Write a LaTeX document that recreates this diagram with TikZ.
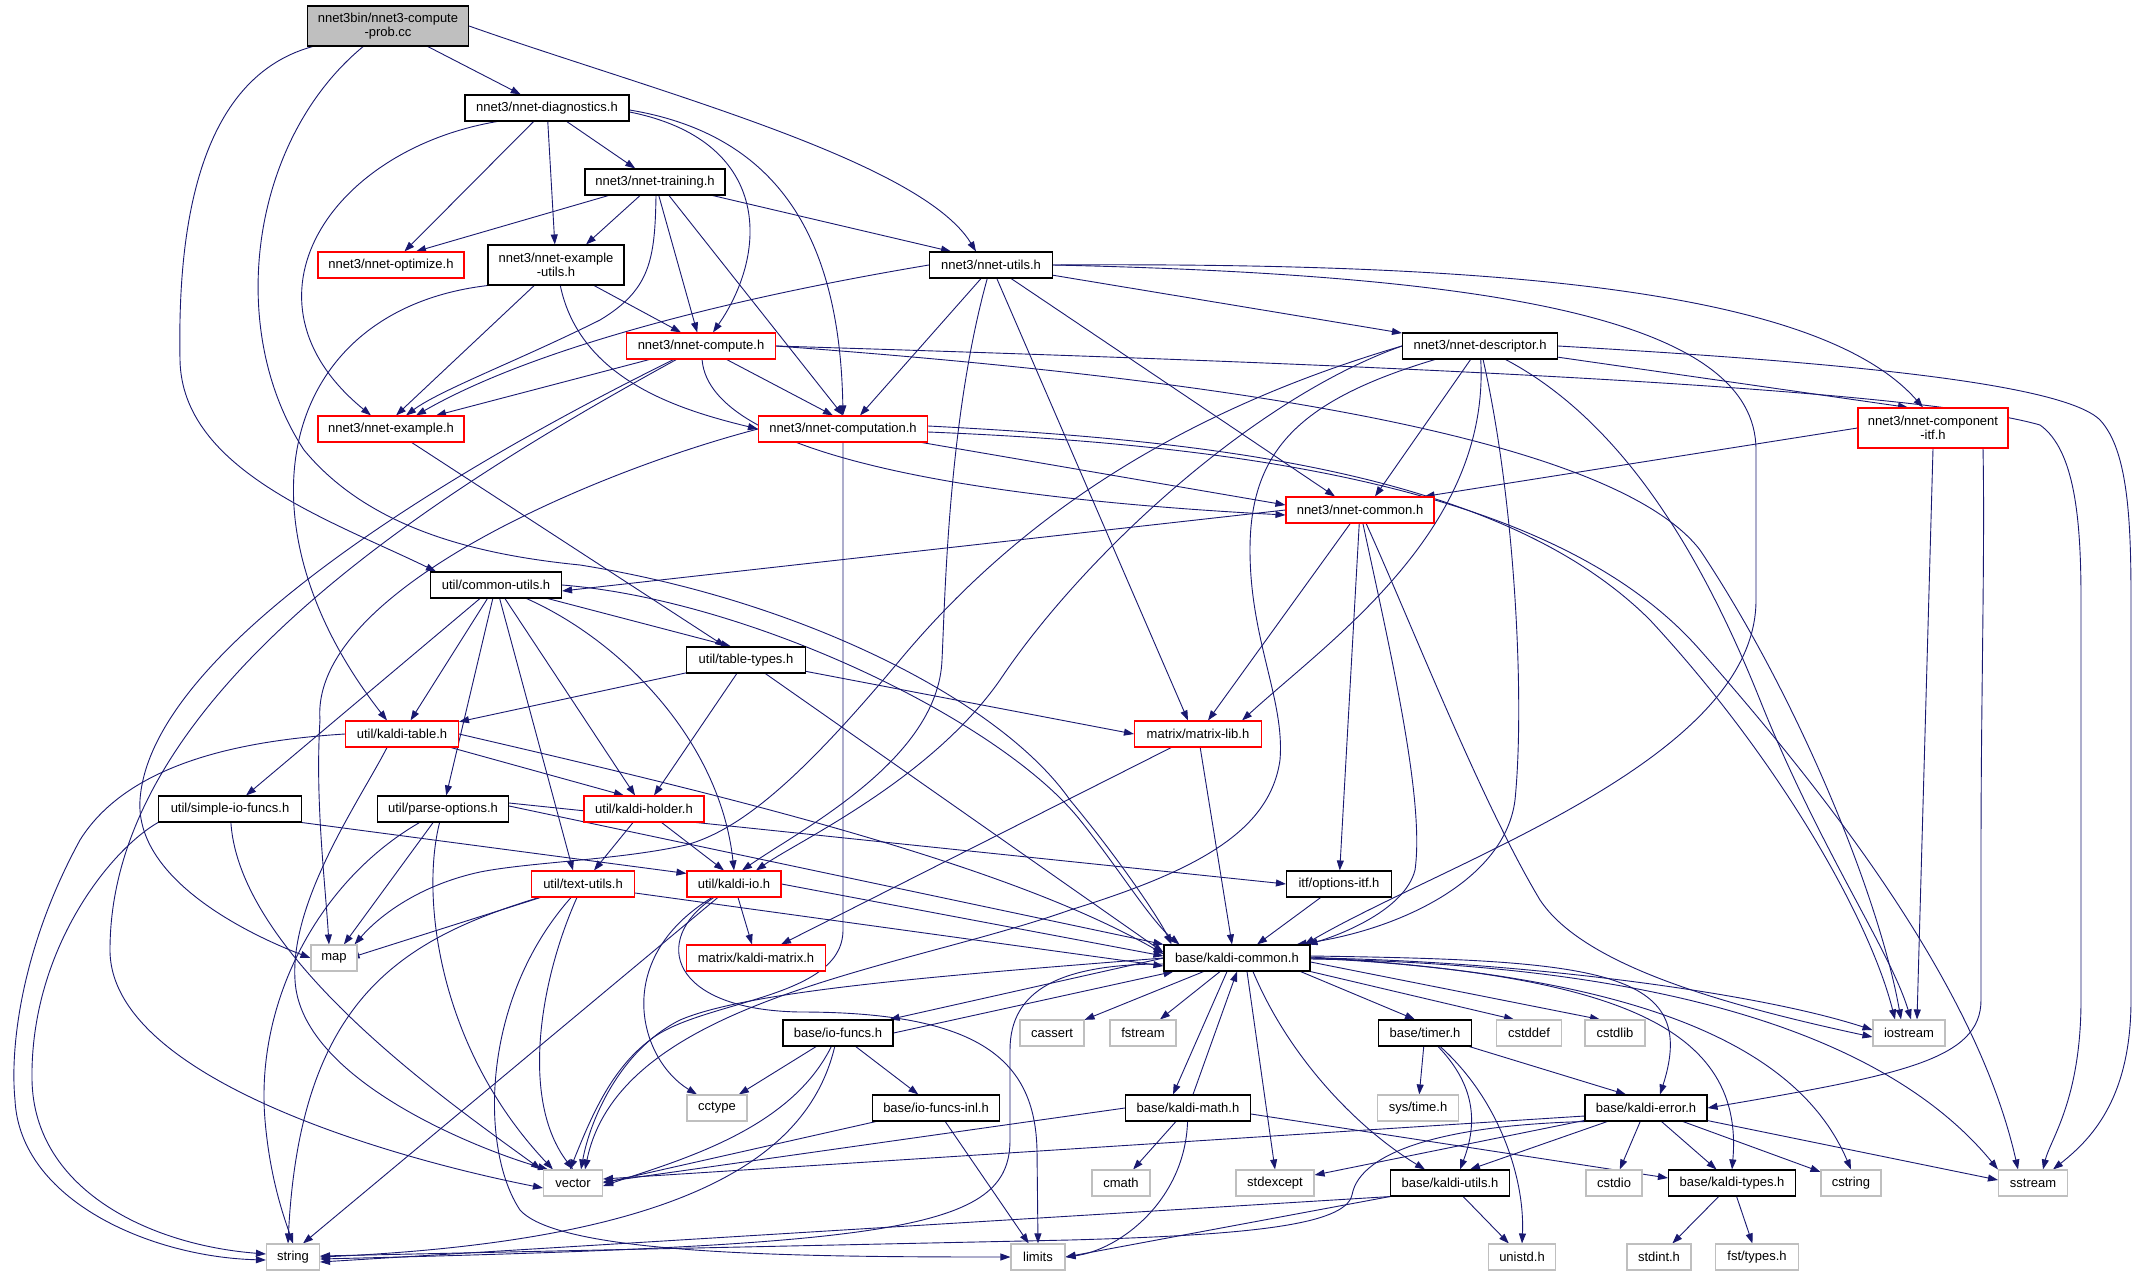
\documentclass[tikz,border=0pt]{standalone}
\usepackage{fontspec}
\setmainfont{Liberation Sans}
\usetikzlibrary{arrows.meta}
\definecolor{edgec}{HTML}{191970}
\definecolor{sysgray}{HTML}{BFBFBF}
\definecolor{topgray}{HTML}{BFBFBF}
\pgfdeclarelayer{bg}
\pgfsetlayers{bg,main}
\begin{document}
\begin{tikzpicture}[x=1pt,y=-1pt,
  nd/.style={rectangle, line width=1.1pt, fill=white, inner sep=0pt, minimum height=26pt, align=center, font=\fontsize{13}{14.5}\selectfont},
  blk/.style={nd, draw=black},
  rd/.style={nd, draw=red},
  gy/.style={nd, draw=sysgray},
  wd/.style={minimum width=#1pt},
  tall/.style={minimum height=40pt},
  ed/.style={draw=edgec, line width=0.9pt, -{Triangle[length=10pt,width=7pt]}}]
\useasboundingbox (0,0) rectangle (2139,1276);
% ---------- nodes ----------
\node[blk,wd=161,tall,fill=topgray] (T) at (388,26) {nnet3bin/nnet3-compute\\-prob.cc};
\node[blk,wd=164] (diag) at (547,108) {nnet3/nnet-diagnostics.h};
\node[blk,wd=140] (training) at (655,182) {nnet3/nnet-training.h};
\node[rd,wd=146] (optimize) at (391,265) {nnet3/nnet-optimize.h};
\node[blk,wd=136,tall] (exutils) at (556,265) {nnet3/nnet-example\\-utils.h};
\node[blk,wd=123] (nutils) at (991,265) {nnet3/nnet-utils.h};
\node[rd,wd=149] (compute) at (701,346) {nnet3/nnet-compute.h};
\node[blk,wd=155] (descriptor) at (1480,346) {nnet3/nnet-descriptor.h};
\node[rd,wd=146] (example) at (391,429) {nnet3/nnet-example.h};
\node[rd,wd=169] (computation) at (843,429) {nnet3/nnet-computation.h};
\node[rd,wd=150,tall] (compitf) at (1933,428) {nnet3/nnet-component\\-itf.h};
\node[rd,wd=148] (ncommon) at (1360,510) {nnet3/nnet-common.h};
\node[blk,wd=131] (cutils) at (496,585) {util/common-utils.h};
\node[blk,wd=119] (tabletypes) at (746,660) {util/table-types.h};
\node[rd,wd=113] (ktable) at (402,734) {util/kaldi-table.h};
\node[rd,wd=127] (matrixlib) at (1198,734) {matrix/matrix-lib.h};
\node[blk,wd=143] (simpleio) at (230,809) {util/simple-io-funcs.h};
\node[blk,wd=131] (parseopts) at (443,809) {util/parse-options.h};
\node[rd,wd=120] (kholder) at (644,809) {util/kaldi-holder.h};
\node[rd,wd=103] (textutils) at (583,884) {util/text-utils.h};
\node[rd,wd=94] (kaldiio) at (734,884) {util/kaldi-io.h};
\node[blk,wd=105] (optionsitf) at (1339,884) {itf/options-itf.h};
\node[gy,wd=46] (map) at (334,958) {map};
\node[rd,wd=139] (kaldimatrix) at (756,958) {matrix/kaldi-matrix.h};
\node[blk,wd=146] (kcommon) at (1237,958) {base/kaldi-common.h};
\node[blk,wd=110] (iofuncs) at (838,1033) {base/io-funcs.h};
\node[gy,wd=64] (cassert) at (1052,1033) {cassert};
\node[gy,wd=66] (fstream) at (1143,1033) {fstream};
\node[blk,wd=93] (timer) at (1425,1033) {base/timer.h};
\node[gy,wd=65] (cstddef) at (1529,1033) {cstddef};
\node[gy,wd=60] (cstdlib) at (1615,1033) {cstdlib};
\node[gy,wd=72] (iostream) at (1909,1033) {iostream};
\node[gy,wd=60] (cctype) at (717,1108) {cctype};
\node[blk,wd=127] (iofuncsinl) at (936,1108) {base/io-funcs-inl.h};
\node[blk,wd=125] (kmath) at (1188,1108) {base/kaldi-math.h};
\node[gy,wd=81] (systime) at (1418,1108) {sys/time.h};
\node[blk,wd=122] (kerror) at (1646,1108) {base/kaldi-error.h};
\node[gy,wd=59] (vector) at (573,1183) {vector};
\node[gy,wd=58] (cmath) at (1121,1183) {cmath};
\node[gy,wd=78] (stdexcept) at (1275,1183) {stdexcept};
\node[blk,wd=119] (kutils) at (1450,1183) {base/kaldi-utils.h};
\node[gy,wd=56] (cstdio) at (1614,1183) {cstdio};
\node[blk,wd=127] (ktypes) at (1732,1183) {base/kaldi-types.h};
\node[gy,wd=60] (cstring) at (1851,1183) {cstring};
\node[gy,wd=69] (sstream) at (2033,1183) {sstream};
\node[gy,wd=53] (string) at (293,1257) {string};
\node[gy,wd=54] (limits) at (1038,1257) {limits};
\node[gy,wd=67] (unistd) at (1522,1257) {unistd.h};
\node[gy,wd=64] (stdint) at (1659,1257) {stdint.h};
\node[gy,wd=83] (fsttypes) at (1757,1257) {fst/types.h};
% ---------- edges ----------
\begin{pgfonlayer}{bg}
\fill[white] (0,0) rectangle (2139,1276);
% top
\draw[ed] (T) -- (diag);
\draw[ed] (T.east) .. controls (650,90) and (920,160) .. ([xshift=-15pt]nutils.north);
\draw[ed] (T) .. controls (190,80) and (178,250) .. (180,360) .. controls (182,470) and (330,520) .. ([xshift=6pt]cutils.north west);
\draw[ed] (T) .. controls (250,140) and (225,330) .. (304,450) .. controls (370,530) and (480,555) .. (580,565) .. controls (800,600) and (1000,700) .. (1070,800) .. controls (1120,860) and (1160,920) .. ([xshift=8pt]kcommon.north west);
% diagnostics
\draw[ed] (diag) -- (training);
\draw[ed] (diag) -- (optimize);
\draw[ed] (diag) -- (exutils);
\draw[ed] ([yshift=-4pt]diag.east) .. controls (770,140) and (770,250) .. ([xshift=12pt]compute.north);
\draw[ed] ([yshift=-2pt]diag.east) .. controls (780,135) and (840,240) .. (computation.north);
\draw[ed] ([xshift=-50pt]diag.south) .. controls (330,150) and (230,300) .. ([xshift=-20pt]example.north);
% training
\draw[ed] (training) -- ([xshift=25pt]optimize.north);
\draw[ed] (training) -- ([xshift=30pt]exutils.north);
\draw[ed] (training) -- ([xshift=-40pt]nutils.north);
\draw[ed] (training) -- (compute);
\draw[ed] ([xshift=14pt]training.south) -- (computation.north);
\draw[ed] ([xshift=1pt]training.south) .. controls (655,260) and (650,290) .. (600,320) .. controls (520,360) and (440,390) .. ([xshift=15pt]example.north);
% example-utils
\draw[ed] (exutils) -- ([xshift=-20pt]compute.north);
\draw[ed] (exutils) -- ([xshift=5pt]example.north);
\draw[ed] (exutils) .. controls (580,380) and (680,410) .. (computation.west);
\draw[ed] (exutils.south west) .. controls (280,310) and (230,520) .. ([xshift=-15pt]ktable.north);
% nnet-utils
\draw[ed] (nutils.west) .. controls (720,300) and (530,350) .. ([xshift=25pt]example.north);
\draw[ed] ([xshift=-10pt]nutils.south) -- ([xshift=17pt]computation.north);
\draw[ed] (nutils) -- (descriptor);
\draw[ed] (nutils) -- ([xshift=-25pt]ncommon.north);
\draw[ed] (nutils) -- ([xshift=-10pt]matrixlib.north);
\draw[ed] (nutils) .. controls (948,420) and (945,600) .. (942,660) .. controls (938,760) and (800,830) .. ([xshift=8pt]kaldiio.north);
\draw[ed] (nutils.east) .. controls (1500,275) and (1756,320) .. (1756,450) -- (1756,600) .. controls (1756,760) and (1450,860) .. ([xshift=-6pt]kcommon.north east);
\draw[ed] (nutils.east) .. controls (1500,262) and (1820,290) .. ([xshift=-10pt]compitf.north);
% nnet-compute
\draw[ed] (compute) -- ([xshift=45pt]example.north);
\draw[ed] (compute) -- ([xshift=-10pt]computation.north);
\draw[ed] (compute) .. controls (710,460) and (1000,500) .. ([yshift=-5pt]ncommon.west);
\draw[ed] (compute) .. controls (450,470) and (150,650) .. (140,800) .. controls (135,880) and (250,935) .. (map.west);
\draw[ed] (compute) .. controls (420,500) and (110,700) .. (110,950) .. controls (110,1080) and (400,1160) .. ([yshift=-5pt]vector.west);
\draw[ed] (compute.east) .. controls (1100,370) and (1600,420) .. (1700,550) .. controls (1800,700) and (1880,900) .. ([xshift=-8pt]iostream.north);
\draw[ed] (compute.east) .. controls (1300,362) and (1900,385) .. (2040,425) .. controls (2075,450) and (2081,520) .. (2081,600) -- (2081,1000) .. controls (2081,1100) and (2050,1140) .. ([xshift=10pt]sstream.north);
% nnet-descriptor
\draw[ed] (descriptor) -- ([xshift=15pt]ncommon.north);
\draw[ed] (descriptor) -- ([xshift=-25pt]compitf.north);
\draw[ed] (descriptor) .. controls (1490,530) and (1330,640) .. ([xshift=-20pt]matrixlib.north east);
\draw[ed] (descriptor) .. controls (1515,500) and (1525,700) .. (1515,800) .. controls (1505,880) and (1400,930) .. ([xshift=-14pt]kcommon.north east);
\draw[ed] (descriptor) .. controls (1620,420) and (1700,550) .. (1760,700) .. controls (1820,850) and (1890,950) .. ([xshift=2pt]iostream.north);
\draw[ed] (descriptor.east) .. controls (1800,360) and (2060,380) .. (2100,420) .. controls (2128,450) and (2131,520) .. (2131,600) -- (2131,1000) .. controls (2131,1100) and (2090,1140) .. ([xshift=20pt]sstream.north);
\draw[ed] (descriptor) .. controls (1300,400) and (1250,450) .. (1250,550) .. controls (1250,640) and (1285,700) .. (1280,760) .. controls (1270,830) and (1200,870) .. (1070,910) .. controls (900,970) and (620,1000) .. ([xshift=12pt]vector.north);
\draw[ed] (descriptor.west) .. controls (1250,400) and (1080,560) .. (1000,680) .. controls (930,780) and (800,840) .. ([xshift=22pt]kaldiio.north);
\draw[ed] (descriptor.west) .. controls (1150,420) and (1000,540) .. (900,660) .. controls (800,780) and (740,830) .. (686,845) .. controls (620,860) and (530,862) .. (480,872) .. controls (420,885) and (380,915) .. ([xshift=-3pt]map.north east);
% nnet-computation
\draw[ed] (computation) -- ([yshift=5pt]ncommon.west);
\draw[ed] (computation.south) -- (843,930) .. controls (843,1000) and (700,1000) .. (650,1040) .. controls (610,1070) and (590,1120) .. ([xshift=-3pt]vector.north);
\draw[ed] (computation.west) .. controls (600,470) and (310,590) .. (320,720) .. controls (315,800) and (325,880) .. ([xshift=-5pt]map.north);
\draw[ed] ([yshift=3pt]computation.east) .. controls (1200,440) and (1500,470) .. (1650,620) .. controls (1780,760) and (1870,920) .. ([xshift=-14pt]iostream.north);
\draw[ed] ([yshift=-3pt]computation.east) .. controls (1250,445) and (1560,490) .. (1700,650) .. controls (1850,820) and (1980,1000) .. ([xshift=-15pt]sstream.north);
% nnet-component-itf
\draw[ed] (compitf.west) -- ([xshift=-10pt]ncommon.north east);
\draw[ed] (compitf.south) -- ([xshift=8pt]iostream.north);
\draw[ed] ([xshift=50pt]compitf.south) .. controls (1985,550) and (1981,700) .. (1981,850) -- (1981,1000) .. controls (1981,1060) and (1900,1075) .. (kerror.east);
% nnet-common
\draw[ed] (ncommon.west) -- ([yshift=-6pt]cutils.east);
\draw[ed] (ncommon) -- ([xshift=10pt]matrixlib.north);
\draw[ed] (ncommon) -- (optionsitf);
\draw[ed] (ncommon) .. controls (1390,650) and (1425,800) .. (1415,870) .. controls (1405,910) and (1340,935) .. ([xshift=-3pt]kcommon.north east);
\draw[ed] (ncommon) .. controls (1410,620) and (1480,800) .. (1540,900) .. controls (1580,960) and (1700,1000) .. ([yshift=-4pt]iostream.west);
% common-utils
\draw[ed] (cutils.east) .. controls (750,600) and (1000,720) .. (1080,820) .. controls (1120,870) and (1150,920) .. ([xshift=16pt]kcommon.north west);
\draw[ed] (cutils) -- (parseopts);
\draw[ed] (cutils) .. controls (620,640) and (720,740) .. (kaldiio.north);
\draw[ed] (cutils) -- (simpleio);
\draw[ed] (cutils) -- (kholder);
\draw[ed] (cutils) -- (ktable);
\draw[ed] (cutils) -- ([xshift=-15pt]tabletypes.north);
\draw[ed] (cutils) -- ([xshift=-10pt]textutils.north);
% table-types
\draw[ed] (tabletypes) -- (ktable);
\draw[ed] (tabletypes) -- ([xshift=10pt]kholder.north);
\draw[ed] (tabletypes) -- ([yshift=-8pt]kcommon.north west);
\draw[ed] (tabletypes) -- (matrixlib.west);
\draw[ed] (example) -- (tabletypes);
% kaldi-table
\draw[ed] (ktable.west) .. controls (250,740) and (130,760) .. (80,840) .. controls (20,950) and (10,1050) .. (15,1100) .. controls (20,1200) and (150,1257) .. ([yshift=-3pt]string.west);
\draw[ed] ([xshift=-15pt]ktable.south) .. controls (360,800) and (290,900) .. (295,980) .. controls (300,1080) and (480,1150) .. ([xshift=5pt]vector.north west);
\draw[ed] (ktable) -- ([xshift=-20pt]kholder.north);
\draw[ed] (ktable.east) .. controls (700,790) and (1000,860) .. ([yshift=4pt]kcommon.west);
% simple-io-funcs
\draw[ed] (simpleio.south west) .. controls (110,850) and (30,950) .. (32,1080) .. controls (34,1190) and (150,1245) .. ([yshift=3pt]string.west);
\draw[ed] (simpleio) .. controls (240,960) and (460,1110) .. ([xshift=-2pt]vector.north west);
\draw[ed] (simpleio.south east) -- ([yshift=-3pt]kaldiio.north west);
% parse-options
\draw[ed] (parseopts) -- (map);
\draw[ed] (parseopts) .. controls (320,880) and (255,1000) .. (265,1120) .. controls (270,1180) and (285,1220) .. (string.north);
\draw[ed] (parseopts) .. controls (420,900) and (440,1050) .. ([xshift=10pt]vector.north west);
\draw[ed] ([yshift=3pt]parseopts.east) -- (kcommon.north west);
\draw[ed] ([yshift=6pt]parseopts.east) -- (optionsitf.west);
% kaldi-holder
\draw[ed] (kholder) -- (textutils);
\draw[ed] (kholder) -- ([xshift=-10pt]kaldiio.north);
% text-utils
\draw[ed] (textutils) -- ([xshift=-8pt]map.east);
\draw[ed] (textutils) .. controls (400,940) and (300,1000) .. ([xshift=-5pt]string.north);
\draw[ed] (textutils) .. controls (540,980) and (520,1100) .. (vector.north);
\draw[ed] (textutils) .. controls (480,1000) and (480,1150) .. (520,1210) .. controls (560,1255) and (800,1257) .. (limits.west);
\draw[ed] ([yshift=-9pt]textutils.east) -- ([yshift=-8pt]kcommon.west);
% kaldi-io
\draw[ed] (kaldiio) -- (kaldimatrix);
\draw[ed] (kaldiio.east) -- ([yshift=2pt]kcommon.west);
\draw[ed] (kaldiio) -- ([xshift=10pt]string.north);
\draw[ed] (kaldiio) .. controls (610,960) and (640,1060) .. ([xshift=-20pt]cctype.north);
\draw[ed] (kaldiio) .. controls (650,940) and (670,1010) .. (800,1012) .. controls (980,1012) and (1035,1060) .. (1037,1150) -- (limits.north);
% matrix-lib, options-itf
\draw[ed] (matrixlib) -- ([xshift=25pt]kaldimatrix.north);
\draw[ed] (matrixlib) -- ([xshift=-5pt]kcommon.north);
\draw[ed] (optionsitf) -- ([xshift=20pt]kcommon.north);
% kaldi-common
\draw[ed] (kcommon.west) -- ([xshift=-4pt]iofuncs.north east);
\draw[ed] (iofuncs.east) -- ([xshift=10pt]kcommon.south west);
\draw[ed] (kcommon) -- (cassert);
\draw[ed] (kcommon) -- (fstream);
\draw[ed] ([xshift=-10pt]kcommon.south east) -- ([xshift=-10pt]timer.north);
\draw[ed] (kcommon.south east) -- ([xshift=-15pt]cstddef.north);
\draw[ed] ([yshift=-4pt]kcommon.east) -- ([xshift=-15pt]cstdlib.north);
\draw[ed] (kcommon.east) .. controls (1500,960) and (1750,990) .. ([yshift=3pt]iostream.west);
\draw[ed] ([xshift=-10pt]kcommon.south) -- ([xshift=-15pt]kmath.north);
\draw[ed] ([xshift=5pt]kmath.north) -- (kcommon.south);
\draw[ed] ([xshift=10pt]kcommon.south) -- (stdexcept.north);
\draw[ed] ([xshift=16pt]kcommon.south) .. controls (1290,1060) and (1360,1130) .. ([xshift=-25pt]kutils.north);
\draw[ed] ([yshift=2pt]kcommon.east) .. controls (1600,960) and (1700,970) .. ([xshift=14pt]kerror.north);
\draw[ed] ([yshift=1pt]kcommon.east) .. controls (1600,975) and (1745,1020) .. (ktypes.north);
\draw[ed] (kcommon.east) .. controls (1650,975) and (1800,1050) .. (cstring.north);
\draw[ed] ([yshift=-1pt]kcommon.east) .. controls (1700,965) and (1900,1050) .. (sstream.north west);
\draw[ed] (kcommon.west) .. controls (950,975) and (750,990) .. (680,1020) .. controls (620,1050) and (590,1120) .. ([xshift=8pt]vector.north);
\draw[ed] ([yshift=-6pt]kcommon.west) .. controls (1060,964) and (1010,990) .. (1010,1050) -- (1010,1140) .. controls (1010,1230) and (900,1245) .. ([yshift=-2pt]string.east);
% io-funcs
\draw[ed] (iofuncs) -- (cctype);
\draw[ed] (iofuncs) .. controls (790,1130) and (680,1160) .. ([yshift=-3pt]vector.east);
\draw[ed] (iofuncs) .. controls (810,1150) and (700,1240) .. (string.east);
\draw[ed] (iofuncs) -- (iofuncsinl);
\draw[ed] (iofuncsinl) -- (vector.east);
\draw[ed] (iofuncsinl) -- (limits);
% kaldi-math
\draw[ed] (kmath.west) -- ([yshift=1pt]vector.east);
\draw[ed] (kmath) -- (cmath);
\draw[ed] (kmath) .. controls (1185,1200) and (1120,1250) .. (limits.east);
\draw[ed] ([yshift=-6pt]kmath.east) -- ([yshift=5pt]ktypes.west);
% timer
\draw[ed] (timer) -- (systime);
\draw[ed] (timer) .. controls (1480,1090) and (1475,1130) .. ([xshift=10pt]kutils.north);
\draw[ed] (timer) .. controls (1500,1100) and (1525,1180) .. (unistd.north);
\draw[ed] (timer) -- ([xshift=-20pt]kerror.north);
% kaldi-error
\draw[ed] ([yshift=-8pt]kerror.west) -- ([yshift=4pt]vector.east);
\draw[ed] (kerror) -- (stdexcept);
\draw[ed] (kerror.south west) .. controls (1450,1125) and (1360,1150) .. (1352,1195) .. controls (1345,1225) and (1250,1235) .. (1070,1240) -- ([yshift=1pt]string.east);
\draw[ed] (kerror) -- ([xshift=20pt]kutils.north);
\draw[ed] (kerror) -- (cstdio);
\draw[ed] (kerror) -- (ktypes);
\draw[ed] (kerror) -- (cstring);
\draw[ed] (kerror) -- ([yshift=3pt]sstream.west);
% kaldi-utils, kaldi-types
\draw[ed] (kutils.south west) -- ([yshift=-5pt]string.east);
\draw[ed] (kutils.south west) -- (limits.east);
\draw[ed] (kutils) -- (unistd);
\draw[ed] (ktypes) -- (stdint);
\draw[ed] (ktypes) -- (fsttypes);
\end{pgfonlayer}
\end{tikzpicture}
\end{document}
